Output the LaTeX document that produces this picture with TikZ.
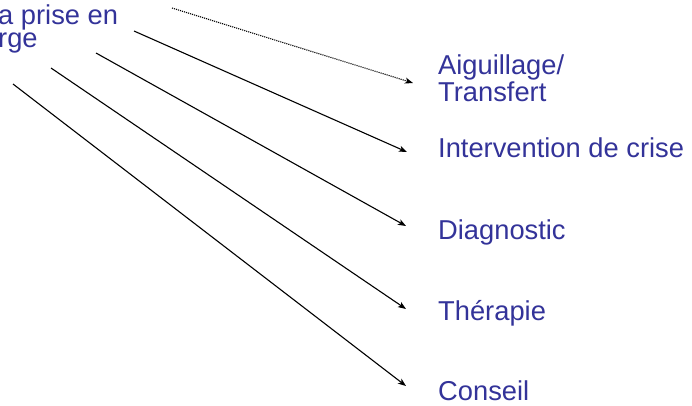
\documentclass[tikz,border=0pt]{standalone}
\usepackage{fontspec}
\setmainfont{Liberation Sans}
\usetikzlibrary{arrows.meta}
\definecolor{labelblue}{RGB}{51,51,153}
\tikzset{
  % Set arrowhead
  >={Stealth[length=8pt, width=6pt, inset=2pt]},
  % Blue text
  txt/.style={text=labelblue, inner sep=0pt, align=left,
    font=\fontsize{27.3}{23}\selectfont},
  % Connectors
  lnk/.style={->, line width=1.1pt},
  lnkdot/.style={lnk, densely dotted},
}

\begin{document}
\begin{tikzpicture}[x=1pt, y=-1pt]
  \useasboundingbox (0,0) rectangle (692,405);

  % source text, cut at the left edge (base = last line)
  \node[txt, anchor=base west] (src) at (-2,47) {a prise en\\rge};

  % targets
  \node[txt, anchor=base west] (aig) at (438,101) {Aiguillage/\\Transfert};
  \node[txt, anchor=base west] (cri) at (438,157) {Intervention de crise};
  \node[txt, anchor=base west] (dia) at (438,239) {Diagnostic};
  \node[txt, anchor=base west] (the) at (438,320) {Thérapie};
  \node[txt, anchor=base west] (con) at (438,400) {Conseil};

  % start and end points
  \coordinate (s1) at (172,8);   \coordinate (t1) at (413,83);
  \coordinate (s2) at (134,31);  \coordinate (t2) at (407,152);
  \coordinate (s3) at (96,53);   \coordinate (t3) at (406,226);
  \coordinate (s4) at (51,68);   \coordinate (t4) at (406,309);
  \coordinate (s5) at (13,84);   \coordinate (t5) at (406,386);

  \draw[lnkdot] (s1) -- (t1);
  \draw[lnk] (s2) -- (t2);
  \draw[lnk] (s3) -- (t3);
  \draw[lnk] (s4) -- (t4);
  \draw[lnk] (s5) -- (t5);
\end{tikzpicture}
\end{document}
